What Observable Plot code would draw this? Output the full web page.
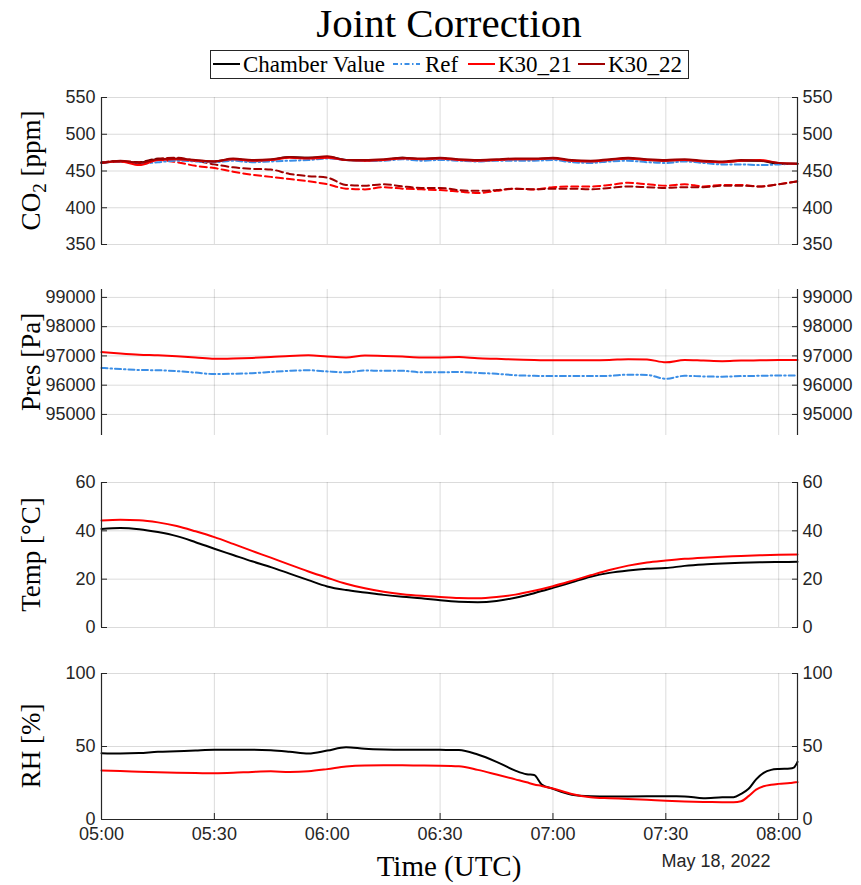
<!DOCTYPE html>
<html><head><meta charset="utf-8">
<script src="https://cdn.jsdelivr.net/npm/d3@7"></script>
<script src="https://cdn.jsdelivr.net/npm/@observablehq/plot@0.6"></script>
<style>
body{margin:0;background:#fff;}
#root{position:relative;width:861px;height:885px;background:#fff;overflow:hidden;}
.panel{position:absolute;left:0;}
#title{position:absolute;left:101px;width:696px;top:0px;text-align:center;font-family:"Liberation Serif","Times New Roman",serif;font-size:41px;line-height:46px;color:#000;}
</style></head><body><div id="root"><div id="title">Joint Correction</div></div>
<script>
// ---------- data ----------
const times = ["05:00","05:05","05:10","05:15","05:20","05:25","05:30","05:35","05:40","05:45",
  "05:50","05:55","06:00","06:05","06:10","06:15","06:20","06:25","06:30","06:35",
  "06:40","06:45","06:50","06:55","07:00","07:05","07:10","07:15","07:20","07:25",
  "07:30","07:35","07:40","07:45","07:50","07:55","08:00","08:05"];
const xTickLabels = ["05:00","05:30","06:00","06:30","07:00","07:30","08:00"];
const xStart = "05:00", xEnd = "08:05";
const dateLabel = "May 18, 2022";

// CO2 [ppm]
const co2Chamber = [461,463,461,466,466,464,463,466,464,465,469,468,469,465,464,465,468,466,467,465,464,465,466,466,467,464,463,465,467,465,464,465,463,462,464,464,460,460];
const co2Ref     = [461,463,460,462,464,463,462,464,462,463,464,465,467,465,464,464,466,464,465,464,463,464,464,464,465,462,461,463,464,462,461,463,461,459,459,458,459,460];
const co2K21     = [461,463,458,465,466,464,463,466,464,465,468,467,468,465,464,465,467,466,467,465,464,465,466,466,467,464,463,465,467,465,464,465,463,462,464,465,461,460];
const co2K22     = [461,464,461,466,467,465,463,467,465,466,469,468,470,465,465,466,468,467,468,466,465,466,467,467,468,465,464,466,468,466,465,466,464,463,465,464,461,460];
const co2K21raw  = [462,463,462,465,462,457,454,449,445,442,439,436,432,426,425,428,426,425,424,422,420,423,426,425,428,429,429,431,434,432,430,432,429,431,431,429,432,436];
const co2K22raw  = [462,463,462,467,468,464,459,455,453,452,446,443,441,431,430,432,429,427,427,424,423,424,426,425,426,426,425,427,429,428,427,428,428,430,430,429,432,436];

// Pressure [Pa]
const presRef = [96590,96550,96520,96510,96480,96430,96380,96390,96410,96450,96490,96510,96470,96440,96500,96490,96490,96440,96440,96450,96420,96390,96340,96320,96310,96310,96310,96320,96360,96350,96220,96320,96300,96290,96310,96320,96330,96330];
const presK21 = [97130,97080,97040,97020,96990,96950,96900,96910,96930,96960,97000,97020,96980,96950,97010,97000,96980,96950,96950,96960,96920,96900,96880,96860,96850,96850,96850,96860,96890,96880,96780,96860,96840,96820,96840,96850,96860,96860];

// Temperature [°C]
const tempChamber = [40.8,41.2,40.7,39.5,37.8,35.3,32.6,30.0,27.4,25.0,22.3,19.6,17.0,15.5,14.5,13.5,12.7,12.1,11.3,10.7,10.5,11.0,12.3,14.2,16.4,18.7,21.0,22.6,23.6,24.3,24.6,25.5,26.1,26.5,26.8,27.0,27.1,27.2];
const tempK21     = [44.3,44.6,44.4,43.5,42.0,39.8,37.4,34.6,31.7,28.9,26.0,23.2,20.6,18.1,16.2,14.8,13.8,13.1,12.6,12.2,12.1,12.6,13.6,15.2,17.1,19.3,21.6,23.8,25.6,26.9,27.7,28.4,28.9,29.3,29.6,29.9,30.1,30.2];

// Relative humidity [%]
const rhTimes = ["05:00","05:05","05:10","05:15","05:20","05:25","05:30","05:35","05:40","05:45",
  "05:50","05:55","06:00","06:05","06:10","06:15","06:20","06:25","06:30","06:35",
  "06:40","06:45","06:50","06:53","06:55","06:57","07:00","07:05","07:10","07:15",
  "07:20","07:25","07:30","07:35","07:40","07:45","07:48","07:50","07:52","07:54",
  "07:56","07:58","08:00","08:03","08:04","08:05"];
const rhChamber = [45.4,45.2,45.5,46.4,46.8,47.3,47.7,47.7,47.8,47.4,46.4,45.2,47.2,49.5,48.5,48.0,47.8,47.8,47.7,47.6,44.5,39.5,33.5,31.0,30.5,24.0,21.0,17.0,16.0,15.8,15.8,15.9,15.9,15.8,14.6,15.2,15.3,17.5,21.0,27.5,32.0,34.0,34.6,34.9,35.5,39.5];
const rhK21     = [33.6,33.2,32.7,32.3,32.0,31.8,31.7,32.0,32.6,33.0,32.5,33.0,34.5,36.3,37.0,37.1,37.1,37.0,36.9,36.5,34.0,30.8,27.5,25.5,24.0,23.0,21.2,17.5,15.3,14.6,14.1,13.5,12.8,12.3,12.0,11.9,11.9,12.5,16.0,20.5,22.8,23.8,24.4,25.0,25.3,25.6];

const co2Ticks = [350,400,450,500,550];
const presTicks = [95000,96000,97000,98000,99000];
const tempTicks = [0,20,40,60];
const rhTicks = [0,50,100];

// ---------- helpers ----------
const T = s => new Date(`2022-05-18T${s}:00Z`);
const series = (ts, vs, name) => ts.map((t, i) => ({t: T(t), v: vs[i], name}));
const x0 = T(xStart), x1 = T(xEnd);
const xTicks = xTickLabels.map(T);

const C = {black: "#000000", blue: "#3b8ee6", red: "#ff0000", dark: "#a00000"};
const SANS = "'Liberation Sans', Arial, Helvetica, sans-serif";
const SERIF = "'Liberation Serif', 'Times New Roman', serif";

const root = document.getElementById("root");

function panel({top, bottom, yDomain, yTicks, lines, label, showX}) {
  const mt = 12, mb = showX ? 70 : 12;
  const h = bottom - top;
  const marks = [
    Plot.gridX(xTicks, {stroke: "#000", strokeOpacity: 0.14, strokeWidth: 1}),
    Plot.gridY(yTicks, {stroke: "#000", strokeOpacity: 0.14, strokeWidth: 1}),
    ...lines.map(l => Plot.line(l.data, {x: "t", y: "v", stroke: l.color, strokeWidth: l.w || 2,
      strokeDasharray: l.dash || null, curve: "monotone-x"})),
    Plot.ruleX([x0], {stroke: "#262626", strokeWidth: 1.2}),
    Plot.ruleX([x1], {stroke: "#262626", strokeWidth: 1.2}),
    Plot.axisY(yTicks, {anchor: "left", tickSize: -6, tickPadding: 12, label: null, tickFormat: d => String(d), stroke: "#262626", fill: "#262626"}),
    Plot.axisY(yTicks, {anchor: "right", tickSize: -6, tickPadding: 11, label: null, tickFormat: d => String(d), stroke: "#262626", fill: "#262626"})
  ];
  if (showX) {
    marks.push(Plot.ruleY([yDomain[0]], {stroke: "#262626", strokeWidth: 1.2}));
    marks.push(Plot.axisX(xTicks, {anchor: "bottom", tickSize: -6, tickPadding: 14, label: null,
      tickFormat: d3.utcFormat("%H:%M"), stroke: "#262626", fill: "#262626"}));
  }
  const svg = Plot.plot({
    width: 861, height: h + mt + mb,
    marginLeft: 101, marginRight: 64, marginTop: mt, marginBottom: mb,
    style: {fontFamily: SANS, fontSize: "18px", color: "#262626", background: "transparent", overflow: "visible"},
    x: showX ? {type: "utc", domain: [x0, x1]} : {type: "utc", domain: [x0, x1], axis: null},
    y: {domain: yDomain, axis: null},
    marks
  });
  svg.classList.add("panel");
  svg.style.top = (top - mt) + "px";
  // y label (rotated, serif)
  const cy = mt + h / 2;
  const s = d3.select(svg);
  const tx = s.append("text")
    .attr("transform", `translate(40,${cy}) rotate(-90)`)
    .attr("text-anchor", "middle")
    .attr("font-family", SERIF).attr("font-size", 27).attr("fill", "#000");
  label.forEach(p => {
    const ts = tx.append("tspan").text(p.text);
    if (p.sub) ts.attr("baseline-shift", "-30%").attr("font-size", 19);
  });
  if (showX) {
    s.append("text").attr("x", 449).attr("y", mt + h + 57).attr("text-anchor", "middle")
      .attr("font-family", SERIF).attr("font-size", 29).attr("fill", "#000").text("Time (UTC)");
    s.append("text").attr("x", 716).attr("y", mt + h + 48).attr("text-anchor", "middle")
      .attr("font-family", SANS).attr("font-size", 18).attr("fill", "#262626").text(dateLabel);
  }
  root.appendChild(svg);
}

panel({top: 97, bottom: 244, yDomain: [350, 550], yTicks: co2Ticks,
  label: [{text: "CO"}, {text: "2", sub: true}, {text: " [ppm]"}],
  lines: [
    {data: series(times, co2K21raw, "K30_21 raw"), color: C.red, dash: "7,4"},
    {data: series(times, co2K22raw, "K30_22 raw"), color: C.dark, dash: "7,4"},
    {data: series(times, co2Chamber, "Chamber"), color: C.black},
    {data: series(times, co2Ref, "Ref"), color: C.blue, dash: "6,3,1.5,3"},
    {data: series(times, co2K21, "K30_21"), color: C.red},
    {data: series(times, co2K22, "K30_22"), color: C.dark}
  ]});

panel({top: 289, bottom: 435, yDomain: [94280, 99270], yTicks: presTicks,
  label: [{text: "Pres [Pa]"}],
  lines: [
    {data: series(times, presRef, "Ref"), color: C.blue, dash: "6,3,1.5,3"},
    {data: series(times, presK21, "K30_21"), color: C.red}
  ]});

panel({top: 482, bottom: 627, yDomain: [0, 60], yTicks: tempTicks,
  label: [{text: "Temp [°C]"}],
  lines: [
    {data: series(times, tempChamber, "Chamber"), color: C.black},
    {data: series(times, tempK21, "K30_21"), color: C.red}
  ]});

panel({top: 673, bottom: 819, yDomain: [0, 100], yTicks: rhTicks,
  label: [{text: "RH [%]"}], showX: true,
  lines: [
    {data: series(rhTimes, rhChamber, "Chamber"), color: C.black},
    {data: series(rhTimes, rhK21, "K30_21"), color: C.red}
  ]});

// ---------- legend ----------
const legendItems = [
  {name: "Chamber Value", color: C.black, dash: null, x: 213, tx: 243},
  {name: "Ref", color: C.blue, dash: "5,2.5,1.5,2.5", x: 393, tx: 425},
  {name: "K30_21", color: C.red, dash: null, x: 468, tx: 498},
  {name: "K30_22", color: C.dark, dash: null, x: 578, tx: 608}
];
const lg = d3.select(root).append("svg").attr("id", "legend").attr("width", 861).attr("height", 90)
  .style("position", "absolute").style("left", "0px").style("top", "0px");
lg.append("rect").attr("x", 210.5).attr("y", 50.5).attr("width", 478).attr("height", 28)
  .attr("fill", "white").attr("stroke", "#262626").attr("stroke-width", 1);
legendItems.forEach(it => {
  lg.append("line").attr("x1", it.x).attr("x2", it.x + 27).attr("y1", 64).attr("y2", 64)
    .attr("stroke", it.color).attr("stroke-width", 2).attr("stroke-dasharray", it.dash);
  lg.append("text").attr("x", it.tx).attr("y", 72).attr("font-family", SERIF).attr("font-size", 23)
    .attr("fill", "#000").text(it.name);
});
</script></body></html>
